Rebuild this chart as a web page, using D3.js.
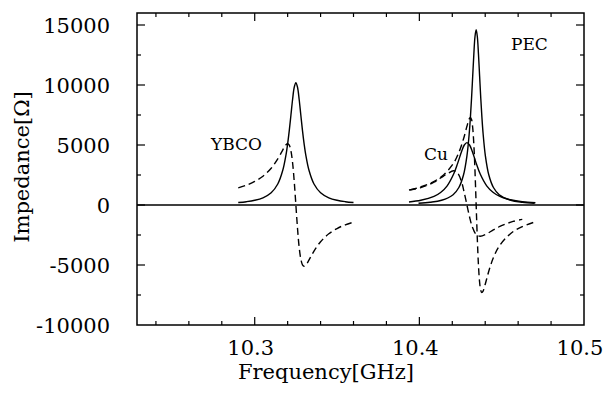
<!DOCTYPE html>
<html lang="en">
<head>
    <meta charset="UTF-8">
    <title>Impedance vs frequency</title>
    <style>
        body { margin: 0; background: #fff; }
        text { font-family: "DejaVu Serif", "Liberation Serif", serif; fill: #000; }
    </style>
</head>
<body>
    <script src="https://d3js.org/d3.v7.min.js" charset="utf-8"></script>
    <script>
        var width = 607;
        var height = 394;

        // YBCO resonance
        var ybcoFreq = [10.290, 10.295, 10.300, 10.305, 10.310, 10.314, 10.317, 10.319, 10.320, 10.321, 10.322, 10.323, 10.324, 10.325,
                        10.326, 10.327, 10.328, 10.329, 10.330, 10.331, 10.333, 10.336, 10.340, 10.345, 10.350, 10.355, 10.360];
        var ybcoReal = [204, 276, 392, 600, 1020, 1750, 2870, 4180, 5100, 6220, 7500, 8790, 9810, 10200,
                        9810, 8790, 7500, 6220, 5100, 4180, 2870, 1750, 1020, 600, 392, 276, 204];
        var ybcoImag = [1430, 1650, 1960, 2400, 3060, 3840, 4580, 5020, 5100, 4980, 4500, 3520, 1960, 0,
                        -1960, -3520, -4500, -4980, -5100, -5020, -4580, -3840, -3060, -2400, -1960, -1650, -1430];

        // Cu resonance
        var cuFreq = [10.3937, 10.4009, 10.4089, 10.4129, 10.4169, 10.4209, 10.4233, 10.4257, 10.4273, 10.4289,
                      10.4305, 10.4321, 10.4345, 10.4369, 10.4409, 10.4449, 10.4489, 10.4529, 10.4569, 10.4625, 10.4705];
        var cuReal = [255, 392, 717, 1040, 1600, 2600, 3490, 4480, 5000, 5200,
                      5000, 4480, 3490, 2600, 1600, 1040, 717, 520, 392, 279, 185];
        var cuImag = [1250, 1450, 1900, 2250, 2600, 2850, 2650, 1900, 1000, 0,
                      -1000, -1800, -2450, -2600, -2400, -2080, -1790, -1560, -1370, -1200, null];

        // PEC resonance
        var pecFreq = [10.3943, 10.3995, 10.4065, 10.4135, 10.4205, 10.4240, 10.4268, 10.4289, 10.4303, 10.4310, 10.4317, 10.4324, 10.4331, 10.4338, 10.4345,
                       10.4352, 10.4359, 10.4366, 10.4373, 10.4380, 10.4387, 10.4401, 10.4422, 10.4450, 10.4485, 10.4555, 10.4625, 10.4700];
        var pecReal = [null, 145, 225, 395, 860, 1460, 2500, 4100, 5980, 7300, 8900, 10740, 12590, 14040, 14600,
                       14040, 12590, 10740, 8900, 7300, 5980, 4100, 2500, 1460, 860, 395, 225, 140];
        var pecImag = [1260, 1450, 1800, 2370, 3430, 4380, 5500, 6560, 7180, 7300, 7120, 6440, 5030, 2810, 0,
                       -2810, -5030, -6440, -7120, -7300, -7180, -6560, -5500, -4380, -3430, -2370, -1800, -1420];

        var xMinorTicks = [10.24, 10.26, 10.28, 10.30, 10.32, 10.34, 10.36, 10.38, 10.40, 10.42, 10.44, 10.46, 10.48];
        var xTickLabels = [10.3, 10.4, 10.5];
        var yMinorTicks = [-7500, -5000, -2500, 0, 2500, 5000, 7500, 10000, 12500, 15000];
        var yTickLabels = [-10000, -5000, 0, 5000, 10000, 15000];

        var pLeft = 137, pRight = 584, pTop = 13, pBottom = 325;

        var x = d3.scaleLinear().domain([10.2285, 10.5]).range([pLeft, pRight]);
        var y = d3.scaleLinear().domain([-10000, 16000]).range([pBottom, pTop]);

        var svg = d3.select("body")
                    .append("svg")
                    .attr("width", width)
                    .attr("height", height);

        // zero line
        svg.append("line")
           .attr("x1", pLeft).attr("x2", pRight)
           .attr("y1", y(0)).attr("y2", y(0))
           .attr("stroke", "#000").attr("stroke-width", 1.6);

        function isMajorX(v) { return Math.abs(v - 10.3) < 1e-6 || Math.abs(v - 10.4) < 1e-6; }
        function isMajorY(v) { return v % 5000 === 0; }

        var ticks = svg.append("g").attr("stroke", "#000").attr("stroke-width", 1.2);
        xMinorTicks.forEach(function(v) {
            var len = isMajorX(v) ? 8 : 4;
            ticks.append("line").attr("x1", x(v)).attr("x2", x(v)).attr("y1", pBottom).attr("y2", pBottom - len);
            ticks.append("line").attr("x1", x(v)).attr("x2", x(v)).attr("y1", pTop).attr("y2", pTop + len);
        });
        yMinorTicks.forEach(function(v) {
            var len = isMajorY(v) ? 8 : 4;
            ticks.append("line").attr("x1", pLeft).attr("x2", pLeft + len).attr("y1", y(v)).attr("y2", y(v));
            ticks.append("line").attr("x1", pRight).attr("x2", pRight - len).attr("y1", y(v)).attr("y2", y(v));
        });

        // frame
        svg.append("rect")
           .attr("x", pLeft).attr("y", pTop)
           .attr("width", pRight - pLeft).attr("height", pBottom - pTop)
           .attr("fill", "none").attr("stroke", "#000").attr("stroke-width", 1.5);

        // tick labels
        svg.selectAll(".xl")
           .data(xTickLabels)
           .enter()
           .append("text")
           .attr("x", d => x(d) - 4)
           .attr("y", 355)
           .attr("text-anchor", "middle")
           .attr("font-size", 21)
           .text(d => d3.format(".1f")(d));

        svg.selectAll(".yl")
           .data(yTickLabels)
           .enter()
           .append("text")
           .attr("x", 110)
           .attr("y", d => y(d) + 8)
           .attr("text-anchor", "end")
           .attr("font-size", 21)
           .text(d => d);

        // axis titles
        svg.append("text")
           .attr("x", 326).attr("y", 379)
           .attr("text-anchor", "middle")
           .attr("font-size", 21)
           .text("Frequency[GHz]");

        svg.append("text")
           .attr("transform", "translate(29,167) rotate(-90)")
           .attr("text-anchor", "middle")
           .attr("font-size", 21)
           .text("Impedance[\u03A9]");

        // curves
        function drawCurve(freq, vals, dashed) {
            var pts = freq.map((f, i) => [f, vals[i]]);
            var line = d3.line()
                         .defined(d => d[1] !== null)
                         .x(d => x(d[0]))
                         .y(d => y(d[1]))
                         .curve(d3.curveCatmullRom);
            svg.append("path")
               .attr("d", line(pts))
               .attr("fill", "none")
               .attr("stroke", "#000")
               .attr("stroke-width", 1.4)
               .attr("stroke-dasharray", dashed ? "7,4" : null);
        }

        drawCurve(ybcoFreq, ybcoReal, false);
        drawCurve(ybcoFreq, ybcoImag, true);
        drawCurve(cuFreq, cuReal, false);
        drawCurve(cuFreq, cuImag, true);
        drawCurve(pecFreq, pecReal, false);
        drawCurve(pecFreq, pecImag, true);

        // curve labels
        svg.append("text").attr("x", 211).attr("y", 150).attr("font-size", 17).text("YBCO");
        svg.append("text").attr("x", 424).attr("y", 160).attr("font-size", 17).text("Cu");
        svg.append("text").attr("x", 511).attr("y", 50).attr("font-size", 17).text("PEC");
    </script>
</body>
</html>
